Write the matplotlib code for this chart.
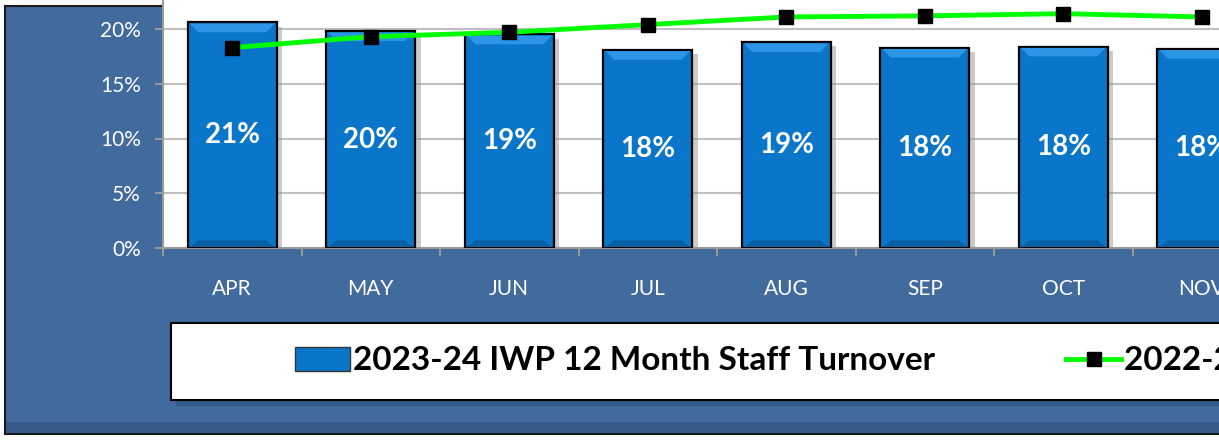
import matplotlib
matplotlib.use("Agg")
import matplotlib.pyplot as plt
from matplotlib.patches import Rectangle, Polygon
from matplotlib.lines import Line2D
import matplotlib.patheffects as pe
import numpy as np

months = ["APR", "MAY", "JUN", "JUL", "AUG", "SEP", "OCT", "NOV"]
turnover_2023_24 = [20.6, 19.8, 19.5, 18.1, 18.8, 18.3, 18.4, 18.2]
turnover_2022_23 = [18.3, 19.3, 19.7, 20.4, 21.1, 21.2, 21.4, 21.1]
bar_labels = ["21%", "20%", "19%", "18%", "19%", "18%", "18%", "18%"]
series_names = ["2023-24 IWP 12 Month Staff Turnover", "2022-23 IWP 12 Month Staff Turnover"]
yticks = [0, 5, 10, 15, 20]

W, H = 1219, 441
fig = plt.figure(figsize=(W / 100, H / 100), dpi=100)
fig.patch.set_facecolor("white")

def fx(px):
    return px / W

def fy(py):
    return 1 - py / H

# outer blue frame
frame_bg = "#416A9D"
fig.patches.append(Rectangle((fx(5), fy(434)), fx(1300 - 5), fy(6) - fy(434),
                             transform=fig.transFigure, facecolor=frame_bg,
                             edgecolor="#1a1a1a", linewidth=1.5, zorder=0))
# bevel darker bottom strip
fig.patches.append(Rectangle((fx(6), fy(433)), fx(1300), fy(422) - fy(433),
                             transform=fig.transFigure, facecolor="#36598A",
                             edgecolor="none", zorder=0.5))

# plot axes (extends past the right edge, as in the cropped reference)
ax_left, ax_top, ax_bottom = 163, 0, 248
cat_w = 138.5
ax = fig.add_axes([fx(ax_left), fy(ax_bottom), fx(cat_w * len(months)), fy(ax_top) - fy(ax_bottom)])
ax.set_zorder(3)
ax.set_facecolor("white")
ax.set_xlim(-0.5, len(months) - 0.5)
ax.set_ylim(0, (ax_bottom - ax_top) / 10.95)

x = np.arange(len(months))
bw = 0.64
bars = ax.bar(x, turnover_2023_24, width=bw, color="#0A76CA", edgecolor="black",
              linewidth=1.6, zorder=3)
for b in bars:
    b.set_path_effects([pe.SimplePatchShadow(offset=(4, -3), shadow_rgbFace="#999999", alpha=0.5),
                        pe.Normal()])
# bevel: lighter top band, darker bottom band with mitred corners
h = bw / 2 - 0.015
for xi, v in zip(x, turnover_2023_24):
    ax.add_patch(Polygon([(xi - h, v - 0.12), (xi + h, v - 0.12),
                          (xi + h - 0.06, v - 0.9), (xi - h + 0.06, v - 0.9)],
                         closed=True, facecolor="#2C95E6", edgecolor="none", zorder=3.5))
    ax.add_patch(Polygon([(xi - h, 0.1), (xi + h, 0.1),
                          (xi + h - 0.06, 0.7), (xi - h + 0.06, 0.7)],
                         closed=True, facecolor="#075FA3", edgecolor="none", zorder=3.5))

for xi, v, lab in zip(x, turnover_2023_24, bar_labels):
    ax.text(xi, v / 2, lab, ha="center", va="center", color="white",
            fontsize=20, fontweight="bold", family="Lato", zorder=5)

line, = ax.plot(x, turnover_2022_23, color="#00FF00", linewidth=3.5, marker="s",
                markersize=10, markerfacecolor="black", markeredgecolor="black",
                zorder=6, clip_on=False)

ax.set_yticks(yticks)
ax.set_yticklabels([f"{t}%" for t in yticks])
ax.yaxis.grid(True, color="#BFBFBF", linewidth=1.5, zorder=0)
ax.set_axisbelow(True)
ax.set_xticks(x)
ax.set_xticklabels(months)
ax.set_xticks(np.arange(-0.5, len(months), 1.0), minor=True)
ax.tick_params(axis="x", which="major", length=0, pad=22, labelsize=15, labelcolor="white")
ax.tick_params(axis="x", which="minor", length=6, color="#999999", width=1.5, direction="out")
ax.tick_params(axis="y", length=6, color="#999999", width=1.5, pad=10, labelsize=15, labelcolor="white")
for lbl in ax.get_xticklabels() + ax.get_yticklabels():
    lbl.set_family("Lato")
for s in ["top", "right"]:
    ax.spines[s].set_visible(False)
for s in ["left", "bottom"]:
    ax.spines[s].set_color("#999999")
    ax.spines[s].set_linewidth(1.5)

# legend box with shadow
fig.patches.append(Rectangle((fx(176), fy(406)), fx(1300), fy(329) - fy(406),
                             transform=fig.transFigure, facecolor="#2E4E78",
                             edgecolor="none", alpha=0.6, zorder=1))
fig.patches.append(Rectangle((fx(171), fy(400)), fx(1300), fy(323) - fy(400),
                             transform=fig.transFigure, facecolor="white",
                             edgecolor="black", linewidth=1.5, zorder=2))

bar_handle = Rectangle((0, 0), 1, 1, facecolor="#0A76CA", edgecolor="#333333", linewidth=1)
line_handle = Line2D([], [], color="#00FF00", linewidth=3.5, marker="s", markersize=10,
                     markerfacecolor="black", markeredgecolor="black")
leg = fig.legend([bar_handle, line_handle], series_names, loc="center left",
                 bbox_to_anchor=(fx(265), fy(361)), ncol=2, frameon=False,
                 prop={"family": "Lato", "weight": "bold", "size": 24},
                 handlelength=1.65, handleheight=0.75, handletextpad=0.08,
                 columnspacing=3.95)
leg.set_zorder(5)

fig.savefig("out.png", dpi=100)
